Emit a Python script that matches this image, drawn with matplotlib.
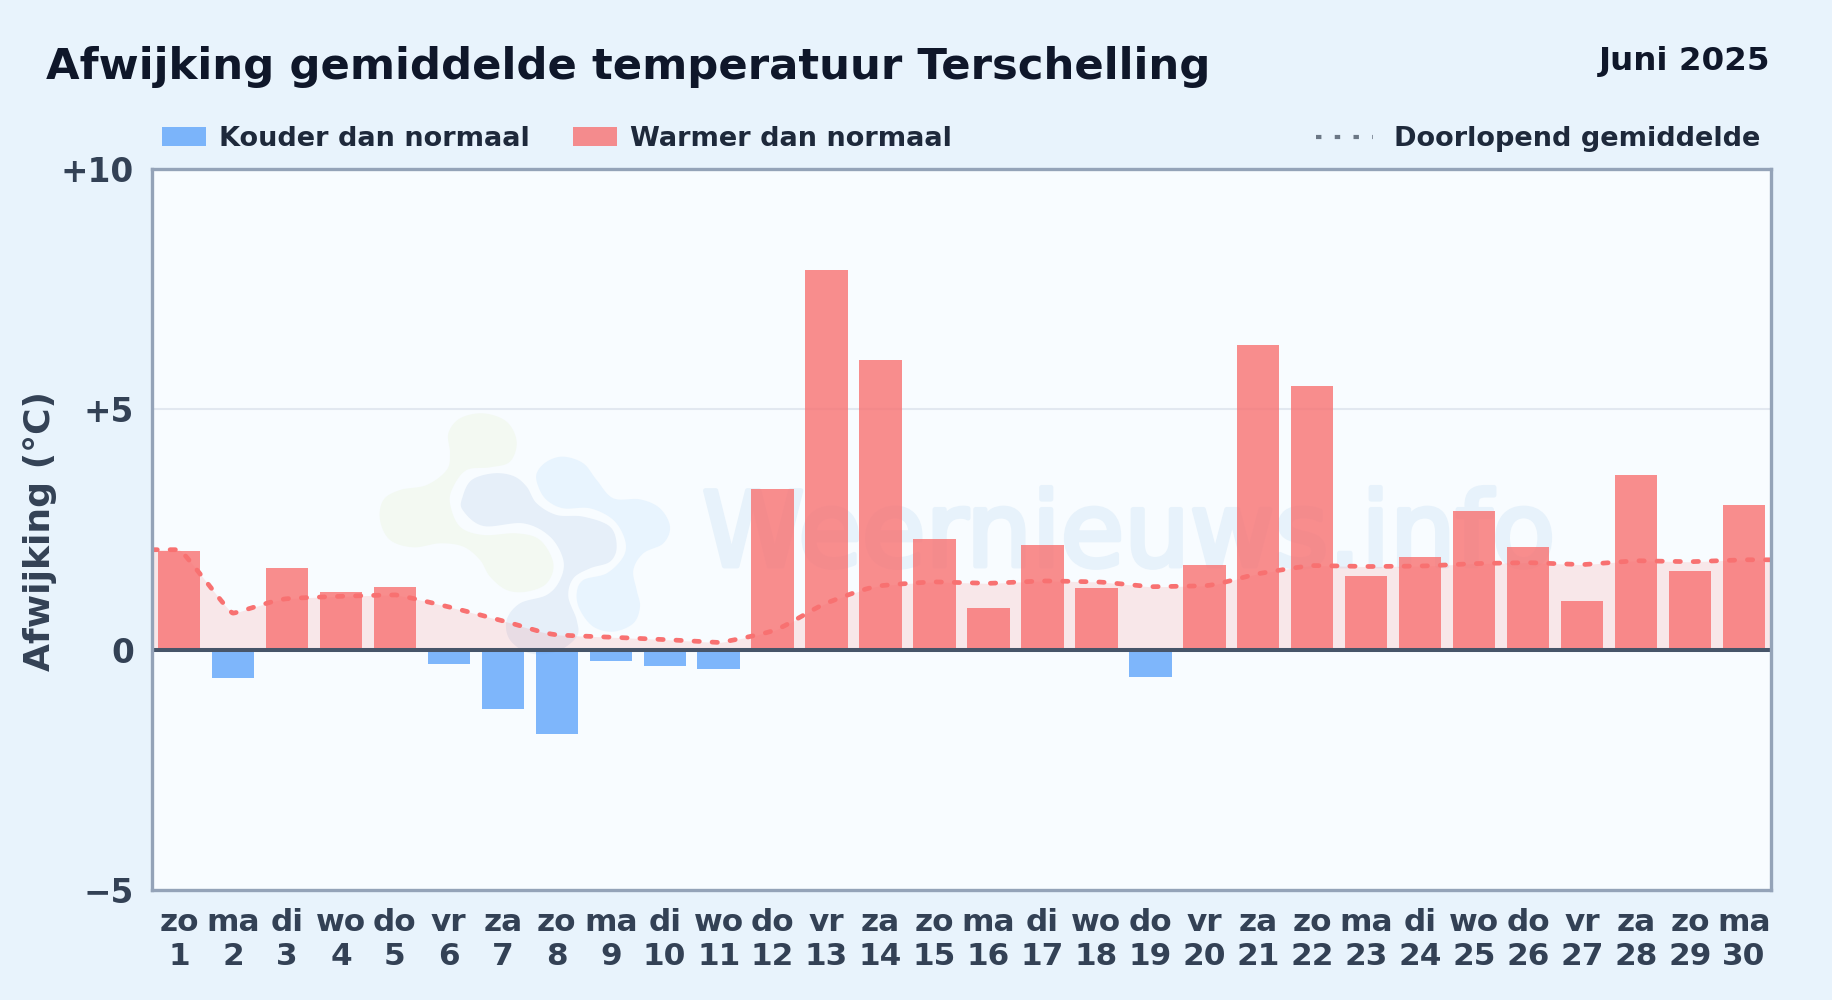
import numpy as np
import matplotlib
matplotlib.use("Agg")
import matplotlib.pyplot as plt
import matplotlib.patheffects as pe
from matplotlib.lines import Line2D
from matplotlib.transforms import Affine2D

weekdays = ["zo","ma","di","wo","do","vr","za","zo","ma","di","wo","do","vr","za","zo",
            "ma","di","wo","do","vr","za","zo","ma","di","wo","do","vr","za","zo","ma"]
days = list(range(1, 31))
deviation = [2.06,-0.58,1.70,1.21,1.31,-0.29,-1.24,-1.75,-0.24,-0.34,-0.41,3.35,7.89,6.02,2.31,
             0.87,2.18,1.29,-0.56,1.77,6.33,5.49,1.53,1.92,2.89,2.14,1.02,3.64,1.63,3.01]
running_mean = [2.08,0.76,1.06,1.11,1.14,0.89,0.60,0.31,0.26,0.21,0.15,0.39,0.97,1.33,1.41,
                1.38,1.43,1.41,1.31,1.33,1.58,1.75,1.73,1.74,1.79,1.81,1.77,1.85,1.83,1.87]
y_ticks = [-5, 0, 5, 10]
y_tick_labels = ["\u22125", "0", "+5", "+10"]

W, H = 1832, 1000
BG = "#e8f3fc"; PLOT = "#f8fcff"
plt.rcParams["font.family"] = "DejaVu Sans"
fig = plt.figure(figsize=(W/100, H/100), dpi=100, facecolor=BG)
L, R, T, B = 152, 1771, 169, 890
ax = fig.add_axes([L/W, 1-B/H, (R-L)/W, (B-T)/H], facecolor=PLOT)
x = np.arange(len(days))
ax.set_xlim(-0.5, len(days)-0.5)
ax.set_ylim(-5, 10)

# watermark logo outlines (pixel positions relative to a crop at 350,390, 3x)
px = Affine2D().scale(1, -1).translate(0, H)
logo_green = [(295,130),(330,85),(400,70),(470,95),(500,155),(480,215),(420,232),(350,240),(310,290),
              (300,340),(330,410),(400,435),(500,430),(570,450),(610,520),(590,580),(530,605),(470,600),
              (420,560),(390,510),(340,470),(270,460),(190,472),(120,450),(90,390),(100,330),(150,300),
              (230,285),(290,240),(300,190)]
logo_light = [(560,250),(590,215),(640,200),(700,220),(740,270),(790,325),(870,328),(930,355),(960,410),
              (940,460),(880,490),(850,540),(860,600),(870,650),(850,700),(790,725),(730,710),(690,660),
              (680,610),(700,570),(770,550),(820,500),(825,450),(790,390),(720,355),(640,355),(590,330),
              (565,290)]
logo_dark = [(338,320),(365,270),(430,250),(490,258),(530,290),(560,340),(620,375),(700,380),(780,410),
             (800,470),(780,515),(720,535),(670,565),(655,620),(680,690),(680,740),(620,785),(540,790),
             (480,750),(470,690),(510,640),(590,615),(630,570),(640,510),(600,440),(520,400),(400,408),
             (338,360)]
def smooth_closed(points, n=12):
    p = np.array(points, float)
    out = []
    t = np.linspace(0, 1, n, endpoint=False)[:, None]
    for i in range(len(p)):
        p0, p1, p2, p3 = p[i-1], p[i], p[(i+1) % len(p)], p[(i+2) % len(p)]
        out.append(0.5*(2*p1+(p2-p0)*t+(2*p0-5*p1+4*p2-p3)*t**2+(3*p1-p0-3*p2+p3)*t**3))
    q = np.vstack(out)
    return 350+q[:, 0]/3, 390+q[:, 1]/3
for pts, col, zo in [(logo_green, "#f3f9f2", 0.5), (logo_light, "#e8f4fe", 0.6), (logo_dark, "#e6eff9", 0.7)]:
    gx, gy = smooth_closed(pts)
    ax.fill(gx, gy, color=col, lw=0, transform=px, zorder=zo)
ax.text(702, 566, "Weernieuws.info", transform=px, fontsize=74.5, color="#e7f2fb",
        ha="left", va="baseline", zorder=0.9,
        path_effects=[pe.withStroke(linewidth=3.5, foreground="#e7f2fb")])

# smooth curve through the running mean for display
xe = np.r_[x[0]-0.5, x, x[-1]+0.5]
ye = np.r_[running_mean[0], running_mean, running_mean[-1]]
d = np.diff(ye)/np.diff(xe)
m = np.zeros_like(ye)
a = np.full_like(ye, 0.25)
for i in range(1, len(ye)-1):
    if d[i-1]*d[i] > 0:
        m[i] = 2*d[i-1]*d[i]/(d[i-1]+d[i])
    else:
        a[i] = 0.08
xs, ys = [], []
for i in range(len(xe)-1):
    h = xe[i+1]-xe[i]
    t = np.linspace(0, 1, 24, endpoint=False)
    c0 = (1-t)**3; c1 = 3*t*(1-t)**2; c2 = 3*t**2*(1-t); c3 = t**3
    xs.append(c0*xe[i]+c1*(xe[i]+a[i]*h)+c2*(xe[i+1]-a[i+1]*h)+c3*xe[i+1])
    ys.append(c0*ye[i]+c1*(ye[i]+a[i]*h*m[i])+c2*(ye[i+1]-a[i+1]*h*m[i+1])+c3*ye[i+1])
xs = np.r_[np.concatenate(xs), xe[-1]]
ys = np.r_[np.concatenate(ys), ye[-1]]

ax.fill_between(xs, 0, ys, color="#f87171", alpha=0.15, lw=0, zorder=1)
ax.yaxis.grid(True, color="#e2e8f0", lw=1.5, zorder=1)
ax.set_axisbelow(True)
dev = np.array(deviation)
neg = dev < 0
bw = 0.785
ax.bar(x[neg], dev[neg], width=bw, color="#60a5fa", alpha=0.8, lw=0, zorder=2, label="Kouder dan normaal")
ax.bar(x[~neg], dev[~neg], width=bw, color="#f87171", alpha=0.8, lw=0, zorder=2, label="Warmer dan normaal")
ax.axhline(0, color="#475569", lw=2.9, zorder=3)
ax.plot(xs, ys, color="#f87171", lw=3.4, ls=(0, (1.13, 2.7)), dash_capstyle="round", zorder=4)

for s in ax.spines.values():
    s.set_color("#94a3b8"); s.set_linewidth(2.4); s.set_zorder(5)

ax.set_yticks(y_ticks, y_tick_labels)
ax.set_xticks(x, [f"{w}\n{n}" for w, n in zip(weekdays, days)])
ax.tick_params(axis="y", length=0, labelsize=23.6, labelcolor="#334155", pad=13)
ax.tick_params(axis="x", length=0, labelsize=22.4, labelcolor="#334155", pad=13)
for lab in ax.get_xticklabels()+ax.get_yticklabels():
    lab.set_fontweight("bold")
for lab in ax.get_xticklabels():
    lab.set_linespacing(1.2)

fig.text(40/W, 1-531/H, "Afwijking (\u00b0C)", rotation=90, fontsize=26, fontweight="bold",
         color="#334155", ha="center", va="center")
fig.text(46/W, 1-79/H, "Afwijking gemiddelde temperatuur Terschelling", fontsize=31.2,
         fontweight="bold", color="#0f172a", ha="left", va="baseline")
fig.text(1770/W, 1-70/H, "Juni 2025", fontsize=23.4, fontweight="bold", color="#0f172a",
         ha="right", va="baseline")

hs, ls = ax.get_legend_handles_labels()
leg1 = fig.legend(hs, ls, loc="lower left", bbox_to_anchor=(162/W, 1-152/H), frameon=False,
                  ncol=2, handlelength=1.62, handleheight=0.7, handletextpad=0.5,
                  columnspacing=1.58, borderpad=0, borderaxespad=0,
                  prop={"size": 19.5, "weight": "bold"}, labelcolor="#1e293b")
proxy = Line2D([0], [0], color="#6b7785", lw=3, ls=(0, (1.3, 3.2)))
leg2 = fig.legend([proxy], ["Doorlopend gemiddelde"], loc="lower right", bbox_to_anchor=(1760/W, 1-152/H),
                  frameon=False, handlelength=2.1, handletextpad=0.75, borderpad=0, borderaxespad=0,
                  prop={"size": 19.5, "weight": "bold"}, labelcolor="#1e293b")
fig.savefig("out.png", dpi=100, facecolor=BG)
